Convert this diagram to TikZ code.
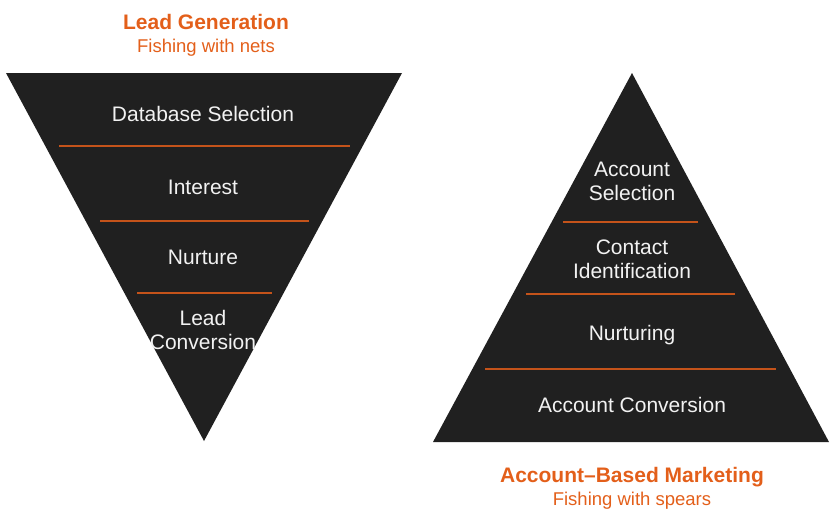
\documentclass[tikz,border=0pt]{standalone}
\usepackage{fontspec}
\setmainfont{Liberation Sans}
\definecolor{darkfill}{HTML}{202020}
\definecolor{accent}{HTML}{E35F1A}
\definecolor{divider}{HTML}{C4531A}
\definecolor{lighttext}{HTML}{F2F2F2}
\begin{document}
\begin{tikzpicture}[x=1pt,y=-1pt,
  shapefill/.style={fill=darkfill,draw=none},
  divline/.style={draw=divider,line width=1.6pt},
  label/.style={text=lighttext,font=\fontsize{21}{24}\selectfont,align=center,inner sep=0pt,text height=15pt,text depth=0pt},
  ttl/.style={text=accent,font=\bfseries\fontsize{21}{24}\selectfont,inner sep=0pt,text height=15pt,text depth=0pt},
  sub/.style={text=accent,font=\fontsize{18.5}{22}\selectfont,inner sep=0pt,text height=13.3pt,text depth=0pt}]
\useasboundingbox (0,0) rectangle (840,525);
% left funnel
\coordinate (ltl) at (6,73);
\coordinate (ltr) at (402,73);
\coordinate (lap) at (204,441);
\fill[shapefill] (ltl) -- (ltr) -- (lap) -- cycle;
\coordinate (l1a) at (59,146); \coordinate (l1b) at (350,146);
\coordinate (l2a) at (100,221); \coordinate (l2b) at (309,221);
\coordinate (l3a) at (137,293); \coordinate (l3b) at (272,293);
\draw[divline] (l1a) -- (l1b);
\draw[divline] (l2a) -- (l2b);
\draw[divline] (l3a) -- (l3b);
\node[label] (db) at (203,114) {Database Selection};
\node[label] (int) at (203,187) {Interest};
\node[label] (nur) at (203,257) {Nurture};
\node[label] (lc) at (203,342) {Lead\\Conversion};
\node[ttl] (lgt) at (206,22) {Lead Generation};
\node[sub] (lgs) at (206,46) {Fishing with nets};
% right pyramid
\coordinate (rap) at (632,73);
\coordinate (rbl) at (433,442);
\coordinate (rbr) at (829,442);
\fill[shapefill] (rap) -- (rbr) -- (rbl) -- cycle;
\coordinate (r1a) at (563,222); \coordinate (r1b) at (698,222);
\coordinate (r2a) at (526,294); \coordinate (r2b) at (735,294);
\coordinate (r3a) at (485,369); \coordinate (r3b) at (776,369);
\draw[divline] (r1a) -- (r1b);
\draw[divline] (r2a) -- (r2b);
\draw[divline] (r3a) -- (r3b);
\node[label] (as) at (632,193) {Account\\Selection};
\node[label] (ci) at (632,271) {Contact\\Identification};
\node[label] (nr) at (632,333) {Nurturing};
\node[label] (ac) at (632,405) {Account Conversion};
\node[ttl] (abm) at (632,475) {Account--Based Marketing};
\node[sub] (abs) at (632,499) {Fishing with spears};
\end{tikzpicture}
\end{document}
